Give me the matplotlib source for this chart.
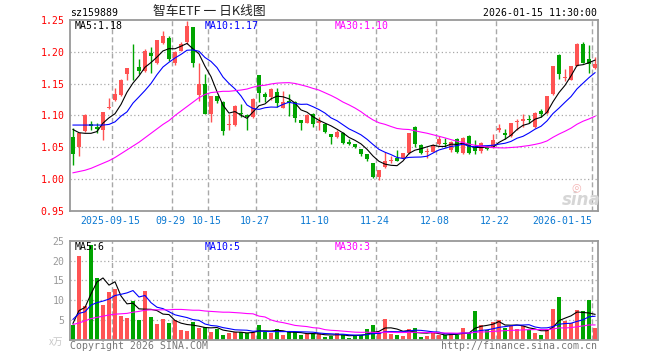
import numpy as np
import pandas as pd
import matplotlib
matplotlib.use('Agg')
import matplotlib.pyplot as plt
from matplotlib.transforms import blended_transform_factory

# daily OHLC, 2025-09-04 .. 2026-01-15 (88 trading days)
opens = [1.066, 1.050, 1.076, 1.087, 1.082, 1.078, 1.111, 1.124, 1.132, 1.165,
         1.178, 1.176, 1.170, 1.198, 1.183, 1.214, 1.222, 1.182, 1.202, 1.215,
         1.239, 1.132, 1.150, 1.103, 1.131, 1.121, 1.085, 1.085, 1.104, 1.100,
         1.098, 1.163, 1.133, 1.129, 1.137, 1.112, 1.122, 1.121, 1.093, 1.088,
         1.103, 1.088, 1.087, 1.071, 1.066, 1.073, 1.058, 1.055, 1.047, 1.039,
         1.025, 1.003, 1.019, 1.029, 1.033, 1.033, 1.041, 1.082, 1.054, 1.042,
         1.043, 1.055, 1.057, 1.046, 1.063, 1.041, 1.068, 1.050, 1.045, 1.050,
         1.050, 1.077, 1.072, 1.068, 1.090, 1.091, 1.094, 1.082, 1.107, 1.104,
         1.133, 1.195, 1.159, 1.156, 1.178, 1.213, 1.188, 1.175]
highs = [1.081, 1.072, 1.103, 1.092, 1.089, 1.106, 1.128, 1.143, 1.157, 1.175,
         1.212, 1.188, 1.205, 1.208, 1.219, 1.232, 1.225, 1.201, 1.215, 1.248,
         1.239, 1.183, 1.165, 1.131, 1.131, 1.123, 1.103, 1.116, 1.118, 1.102,
         1.127, 1.164, 1.137, 1.143, 1.143, 1.138, 1.133, 1.122, 1.093, 1.102,
         1.104, 1.098, 1.088, 1.071, 1.078, 1.074, 1.063, 1.056, 1.048, 1.040,
         1.026, 1.014, 1.043, 1.037, 1.046, 1.041, 1.073, 1.083, 1.056, 1.049,
         1.055, 1.068, 1.065, 1.060, 1.064, 1.067, 1.069, 1.061, 1.058, 1.050,
         1.071, 1.087, 1.079, 1.089, 1.094, 1.102, 1.101, 1.105, 1.110, 1.131,
         1.178, 1.196, 1.173, 1.178, 1.214, 1.216, 1.210, 1.192]
lows = [1.023, 1.037, 1.074, 1.078, 1.072, 1.061, 1.110, 1.122, 1.130, 1.156,
        1.156, 1.165, 1.169, 1.167, 1.181, 1.213, 1.186, 1.180, 1.201, 1.213,
        1.176, 1.123, 1.102, 1.090, 1.120, 1.070, 1.077, 1.083, 1.098, 1.077,
        1.096, 1.121, 1.121, 1.124, 1.113, 1.111, 1.099, 1.090, 1.078, 1.088,
        1.082, 1.077, 1.073, 1.056, 1.065, 1.056, 1.053, 1.049, 1.036, 1.028,
        1.002, 0.998, 1.018, 1.025, 1.028, 1.032, 1.040, 1.051, 1.040, 1.033,
        1.043, 1.054, 1.051, 1.042, 1.041, 1.040, 1.040, 1.040, 1.041, 1.046,
        1.049, 1.074, 1.063, 1.067, 1.077, 1.082, 1.088, 1.081, 1.097, 1.103,
        1.132, 1.157, 1.154, 1.155, 1.177, 1.183, 1.167, 1.173]
closes = [1.039, 1.072, 1.101, 1.083, 1.079, 1.105, 1.114, 1.133, 1.156, 1.175,
          1.177, 1.170, 1.201, 1.193, 1.218, 1.225, 1.188, 1.200, 1.213, 1.240,
          1.182, 1.149, 1.103, 1.131, 1.122, 1.076, 1.087, 1.115, 1.102, 1.098,
          1.126, 1.136, 1.129, 1.142, 1.119, 1.121, 1.120, 1.096, 1.088, 1.101,
          1.086, 1.091, 1.074, 1.067, 1.074, 1.057, 1.056, 1.051, 1.039, 1.032,
          1.004, 1.014, 1.029, 1.030, 1.029, 1.041, 1.073, 1.055, 1.041, 1.044,
          1.054, 1.063, 1.055, 1.059, 1.042, 1.064, 1.041, 1.044, 1.057, 1.047,
          1.061, 1.080, 1.069, 1.088, 1.092, 1.094, 1.093, 1.104, 1.103, 1.131,
          1.177, 1.165, 1.161, 1.177, 1.213, 1.183, 1.181, 1.181]
# volume, unit x万
volumes = [3.8, 21.2, 8.6, 24.0, 15.5, 8.8, 12.2, 12.8, 6.1, 5.6,
           9.7, 5.0, 12.4, 5.9, 4.0, 5.3, 4.4, 5.0, 2.5, 2.3,
           4.5, 3.1, 3.3, 2.1, 2.7, 1.3, 1.8, 2.1, 1.9, 1.8,
           1.9, 3.8, 2.1, 1.7, 2.7, 1.3, 2.1, 1.9, 1.3, 1.4,
           1.4, 1.7, 0.8, 1.0, 1.7, 1.3, 0.6, 1.1, 1.3, 2.8,
           3.8, 1.9, 5.3, 1.5, 1.3, 1.0, 2.8, 3.0, 0.8, 1.1,
           1.8, 1.3, 1.3, 1.4, 1.3, 3.0, 1.7, 7.4, 3.8, 2.5,
           4.5, 5.0, 3.1, 3.5, 2.8, 3.4, 2.5, 1.7, 1.3, 2.8,
           7.8, 10.8, 4.8, 4.2, 7.6, 7.3, 10.1, 3.1]

# first MA points depend on days before the window ->
ma5_head = [1.078, 1.073, 1.072, 1.072]
ma10_head = [1.085, 1.085, 1.085, 1.085, 1.085, 1.085, 1.086, 1.090, 1.099]
ma30_head = [1.010, 1.012, 1.014, 1.017, 1.021, 1.025, 1.029, 1.034, 1.040, 1.046,
             1.052, 1.058, 1.065, 1.072, 1.079, 1.086, 1.092, 1.100, 1.107, 1.114,
             1.121, 1.128, 1.133, 1.136, 1.137, 1.138, 1.138, 1.139, 1.140]
vma5_head = [4.2, 7.4, 8.2, 11.6]
vma10_head = [5.2, 6.7, 7.1, 8.8, 9.4, 9.8, 10.3, 11.2, 11.5]
vma30_head = [3.9, 4.3, 4.8, 5.4, 5.7, 6.0, 6.3, 6.5, 6.6, 6.7,
              7.0, 7.2, 7.5, 7.6, 7.6, 7.6, 7.6, 7.7, 7.7, 7.6,
              7.5, 7.5, 7.3, 7.2, 7.1, 7.0, 7.0, 6.9, 6.8]

tick_idx = [7, 17, 23, 31, 41, 51, 61, 71, 87]
tick_labels = ['2025-09-15', '09-29', '10-15', '10-27', '11-10',
               '11-24', '12-08', '12-22', '2026-01-15']
price_ticks = [0.95, 1.00, 1.05, 1.10, 1.15, 1.20, 1.25]
vol_ticks = [5, 10, 15, 20, 25]

ma_labels = ['MA5:1.18', 'MA10:1.17', 'MA30:1.10']
vma_labels = ['MA5:6', 'MA10:5', 'MA30:3']

RED = '#ff5353'
GREEN = '#00a400'
MA_COLORS = ['#000000', '#0000ff', '#ff00ff']
GRID = '#a8a8a8'
MONO = 'DejaVu Sans Mono'
CJK = ['Noto Sans CJK SC', 'DejaVu Sans']
W, H = 660, 360


def moving_avg(values, n, head):
    s = pd.Series(values, dtype=float).rolling(n).mean()
    s.iloc[:n - 1] = head
    return s.values


def px(x, y):
    return x / W, 1 - y / H


def style_panel(ax, ylim, yticks, label_color):
    ax.set_xlim(-0.5, len(closes) - 0.5)
    ax.set_ylim(*ylim)
    for s in ax.spines.values():
        s.set_color('#999999')
        s.set_linewidth(1.3)
    ax.set_xticks([])
    ax.set_yticks(yticks)
    ax.tick_params(axis='y', length=0, pad=4, labelsize=7.1, labelcolor=label_color)
    for lbl in ax.get_yticklabels():
        lbl.set_fontfamily(MONO)
    for t in yticks:
        if ylim[0] < t < ylim[1]:
            ax.axhline(t, color=GRID, lw=0.9, ls=(0, (1, 2)), zorder=0)
    for i in tick_idx:
        ax.axvline(i - 0.5, color=GRID, lw=1.0, ls=(0, (3.6, 2.2)), zorder=0)


def main():
    n = len(closes)
    x = np.arange(n)
    o, h, l, c = map(np.array, (opens, highs, lows, closes))
    up = c >= o
    colors = np.where(up, RED, GREEN)

    fig = plt.figure(figsize=(W / 100, H / 100), dpi=100, facecolor='white')
    ax = fig.add_axes([70 / W, 1 - 211 / H, 528 / W, 191 / H])
    axv = fig.add_axes([70 / W, 1 - 340 / H, 528 / W, 99.3 / H])

    style_panel(ax, (0.95, 1.25), price_ticks, '#ff0000')
    style_panel(axv, (0, 25), vol_ticks, '#999999')

    # candles
    ax.vlines(x, l, h, colors=colors, lw=1.0, zorder=2)
    body = np.maximum(np.abs(c - o), 0.0012)
    ax.bar(x, body, bottom=np.minimum(o, c), width=0.72, color=colors,
           linewidth=0, zorder=3)

    # price MAs
    for (period, head), col in zip([(5, ma5_head), (10, ma10_head), (30, ma30_head)],
                                   MA_COLORS):
        ax.plot(x, moving_avg(closes, period, head), color=col, lw=0.8, zorder=4)

    # volume bars + MAs
    axv.bar(x, volumes, width=0.82, color=colors, linewidth=0, zorder=2)
    for (period, head), col in zip([(5, vma5_head), (10, vma10_head), (30, vma30_head)],
                                   MA_COLORS):
        axv.plot(x, moving_avg(volumes, period, head), color=col, lw=0.8, zorder=3)

    # date labels under the price panel
    tr = blended_transform_factory(ax.transData, ax.transAxes)
    for k, (i, lab) in enumerate(zip(tick_idx, tick_labels)):
        last = k == len(tick_idx) - 1
        ax.text(i - 0.5 if last else i - 0.75, -0.052, lab, transform=tr,
                ha='right' if last else 'center', va='center',
                fontsize=7.1, family=MONO, color='#0a78d2')

    # header
    fig.text(*px(70, 13), 'sz159889', ha='left', va='center', fontsize=7.1,
             family=MONO, color='#000000')
    fig.text(*px(209, 12), '智车ETF 一 日K线图', ha='center', va='center',
             fontsize=9.2, family=CJK, color='#222222')
    fig.text(*px(597, 13), '2026-01-15 11:30:00', ha='right', va='center',
             fontsize=7.1, family=MONO, color='#000000')

    for xp, lab, col in zip([75, 205, 335], ma_labels, MA_COLORS):
        fig.text(*px(xp, 26), lab, ha='left', va='center', fontsize=7.1,
                 family=MONO, color=col)
    for xp, lab, col in zip([75, 205, 335], vma_labels, MA_COLORS):
        fig.text(*px(xp, 247), lab, ha='left', va='center', fontsize=7.1,
                 family=MONO, color=col)

    # sina watermark
    fig.text(*px(581, 200), 'sina', ha='center', va='center', fontsize=12,
             style='italic', weight='bold', color='#d6d6d6')
    fig.text(*px(576, 187), '◎', ha='center', va='center', fontsize=8,
             color='#f4b4b4')

    # footer
    fig.text(*px(63, 342), 'x万', ha='right', va='center', fontsize=7,
             family=CJK, color='#c8c8c8')
    fig.text(*px(70, 346), 'Copyright 2026 SINA.COM', ha='left', va='center',
             fontsize=7.1, family=MONO, color='#777777')
    fig.text(*px(597, 346), 'http://finance.sina.com.cn', ha='right', va='center',
             fontsize=7.1, family=MONO, color='#777777')

    fig.savefig('out.png', dpi=100, facecolor='white')


if __name__ == '__main__':
    main()
